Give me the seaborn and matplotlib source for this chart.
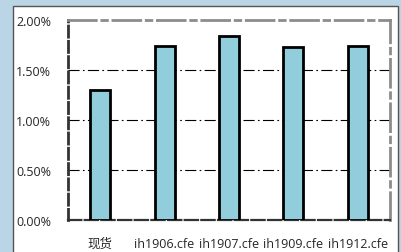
import matplotlib
matplotlib.use("Agg")
import matplotlib.pyplot as plt
import matplotlib.patches as mpatches
from matplotlib.ticker import FuncFormatter, FixedLocator
import seaborn as sns
import pandas as pd

labels = ["现货", "ih1906.cfe", "ih1907.cfe", "ih1909.cfe", "ih1912.cfe"]
values = [0.0130, 0.0174, 0.0184, 0.0173, 0.0174]

df = pd.DataFrame({"name": labels, "value": values})

sns.set_style("white")
plt.rcParams["font.family"] = ["Open Sans", "Noto Sans CJK SC", "DejaVu Sans"]

fig = plt.figure(figsize=(4.01, 2.53), dpi=100)
fig.patch.set_facecolor("#b9d5e6")
# white panel behind the chart
panel = mpatches.Rectangle((13 / 401, -0.05), 385 / 401, 1 - 7 / 253 + 0.05,
                           transform=fig.transFigure, facecolor="white",
                           edgecolor="#555555", linewidth=1.0, zorder=-5)
fig.add_artist(panel)

ax = fig.add_axes([68 / 401, 32 / 253, 322 / 401, 200 / 253])
ax.set_zorder(2)
ax.set_facecolor("none")
sns.barplot(data=df, x="name", y="value", color="#92cddc", edgecolor="black",
            linewidth=2, width=0.31, saturation=1, ax=ax, zorder=3)

ax.set_ylim(0, 0.02)
ax.set_xlim(-0.5, 4.5)
ax.set_yticks([0, 0.005, 0.01, 0.015, 0.02])
ax.yaxis.set_major_formatter(FuncFormatter(lambda v, p: f"{v * 100:.2f}%"))
ax.set_xlabel("")
ax.set_ylabel("")

for y in [0.005, 0.01, 0.015]:
    ax.axhline(y, color="black", linewidth=0.8, linestyle=(0, (10, 3, 1.5, 3)), zorder=1)

ax.spines["left"].set_linestyle((0, (4, 1.5)))
ax.spines["left"].set_color("#333333")
ax.spines["left"].set_linewidth(2)
ax.spines["bottom"].set_linestyle((0, (6, 1.5)))
ax.spines["bottom"].set_color("#333333")
ax.spines["bottom"].set_linewidth(1.6)
for s in ["top", "right"]:
    ax.spines[s].set_visible(True)
    ax.spines[s].set_color("#8c8c8c")
    ax.spines[s].set_linewidth(2)
    ax.spines[s].set_linestyle((0, (10, 2, 2, 2)))

ax.tick_params(axis="y", length=0, labelsize=9, pad=12)
ax.tick_params(axis="x", length=0, labelsize=9, pad=12)
ax.xaxis.set_minor_locator(FixedLocator([0.5, 1.5, 2.5, 3.5]))
ax.tick_params(axis="x", which="minor", direction="in", length=4, width=0.8, color="#333333")

fig.savefig("out.png", dpi=100, facecolor=fig.get_facecolor())
